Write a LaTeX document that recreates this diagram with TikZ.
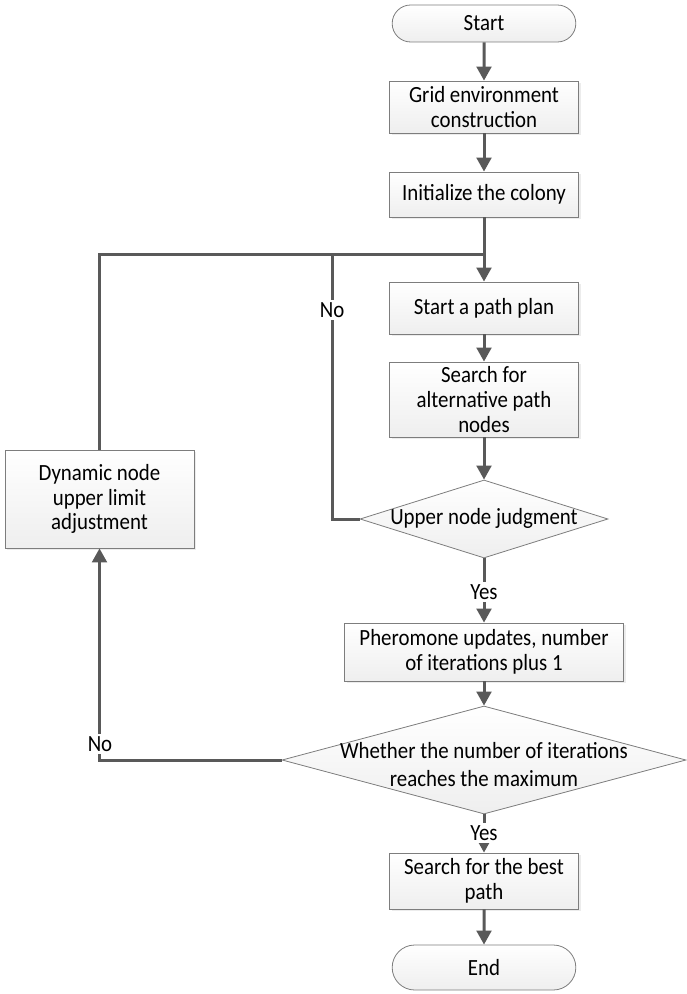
\documentclass[tikz,border=0pt]{standalone}
\usepackage{fontspec}
\setmainfont{Carlito}[FakeStretch=0.9]
\usepackage{tikz}
\usetikzlibrary{arrows.meta,shapes.geometric,shapes.misc,shadows}

\definecolor{linegray}{RGB}{89,89,89}
\definecolor{edgegray}{RGB}{125,125,125}
% text that does not widen the diamond round it
\newcommand{\flattext}[2][-5pt]{\smash{\makebox[0pt]{\raisebox{#1}{\begin{tabular}{@{}c@{}}#2\end{tabular}}}}}

\begin{document}
\begin{tikzpicture}[x=0.75pt,y=0.75pt,yscale=-1,xscale=1,
	font=\fontsize{17.4}{18.4}\selectfont,
	boxfill/.style={draw=edgegray,line width=0.6pt,top color=white,bottom color=gray!13},
	procbox/.style={boxfill,rectangle,align=center,inner xsep=2pt,inner ysep=0.5pt,
		drop shadow={shadow xshift=1.5pt,shadow yshift=-1.5pt,fill=gray!30}},
	termbox/.style={boxfill,rounded rectangle,inner sep=2pt},
	decbox/.style={boxfill,diamond,inner sep=0pt},
	flowline/.style={draw=linegray,line width=2.25pt},
	flowarrow/.style={flowline,-{Triangle[width=11pt,length=10.5pt]}},
	lbl/.style={fill=white,inner sep=1.5pt}]
	%set diagram size 686 x 994
	\useasboundingbox (0,0) rectangle (686,994);
	
	%Shape: Terminal
	\node[termbox,minimum width=141.75pt,minimum height=27.75pt] (start) at (484,23.5) {Start};
	%Shape: Rectangle
	\node[procbox,minimum width=141.75pt,minimum height=39pt] (grid) at (484,107) {Grid environment\\construction};
	%Shape: Rectangle
	\node[procbox,minimum width=141.75pt,minimum height=33.75pt] (init) at (484,194.5) {Initialize the colony};
	%Shape: Rectangle
	\node[procbox,minimum width=141.75pt,minimum height=39pt] (plan) at (484,308) {Start a path plan};
	%Shape: Rectangle
	\node[procbox,minimum width=141.75pt,minimum height=56.25pt] (cand) at (484,399.5) {Search for\\alternative path\\nodes};
	%Shape: Diamond
	\node[decbox,minimum width=186pt,minimum height=58.5pt] (judge) at (484,519) {\flattext{Upper node judgment}};
	%Shape: Rectangle
	\node[procbox,minimum width=209.25pt,minimum height=43.5pt] (phero) at (484,652) {Pheromone updates, number\\of iterations plus 1};
	%Shape: Diamond
	\node[decbox,minimum width=303pt,minimum height=81pt] (iter) at (484,760) {\flattext[-10pt]{Whether the number of iterations\\[2pt]reaches the maximum}};
	%Shape: Rectangle
	\node[procbox,minimum width=141.75pt,minimum height=42pt] (best) at (484,881) {Search for the best\\path};
	%Shape: Terminal
	\node[termbox,minimum width=141.75pt,minimum height=33.75pt] (end) at (484,967.5) {End};
	%Shape: Rectangle
	\node[procbox,minimum width=141.75pt,minimum height=73.5pt] (dyn) at (99.5,499) {Dynamic node\\upper limit\\adjustment};
	
	%Straight Lines
	\draw[flowarrow] (start) -- (grid);
	\draw[flowarrow] (grid) -- (init);
	\draw[flowarrow] (init) -- (plan);
	\draw[flowarrow] (plan) -- (cand);
	\draw[flowarrow] (cand) -- (judge);
	\draw[flowarrow] (judge) -- (phero);
	\draw[flowarrow] (phero) -- (iter);
	\draw[flowarrow] (iter) -- (best);
	\draw[flowarrow] (best) -- (end);
	
	%Loop Lines
	\coordinate (merge) at (484,255);
	\coordinate (retry) at (332,255);
	\draw[flowline] (dyn.north) |- (merge);
	\draw[flowline] (judge.west) -| (retry);
	\draw[flowarrow] (iter.west) -| (dyn.south);
	
	% Text Node
	\node[lbl] (noa) at (332,310) {No};
	\node[lbl] (nob) at (100,744) {No};
	\node[lbl] (yesa) at (484,592) {Yes};
	\node[lbl] (yesb) at (484,833) {Yes};
	
\end{tikzpicture}
\end{document}
